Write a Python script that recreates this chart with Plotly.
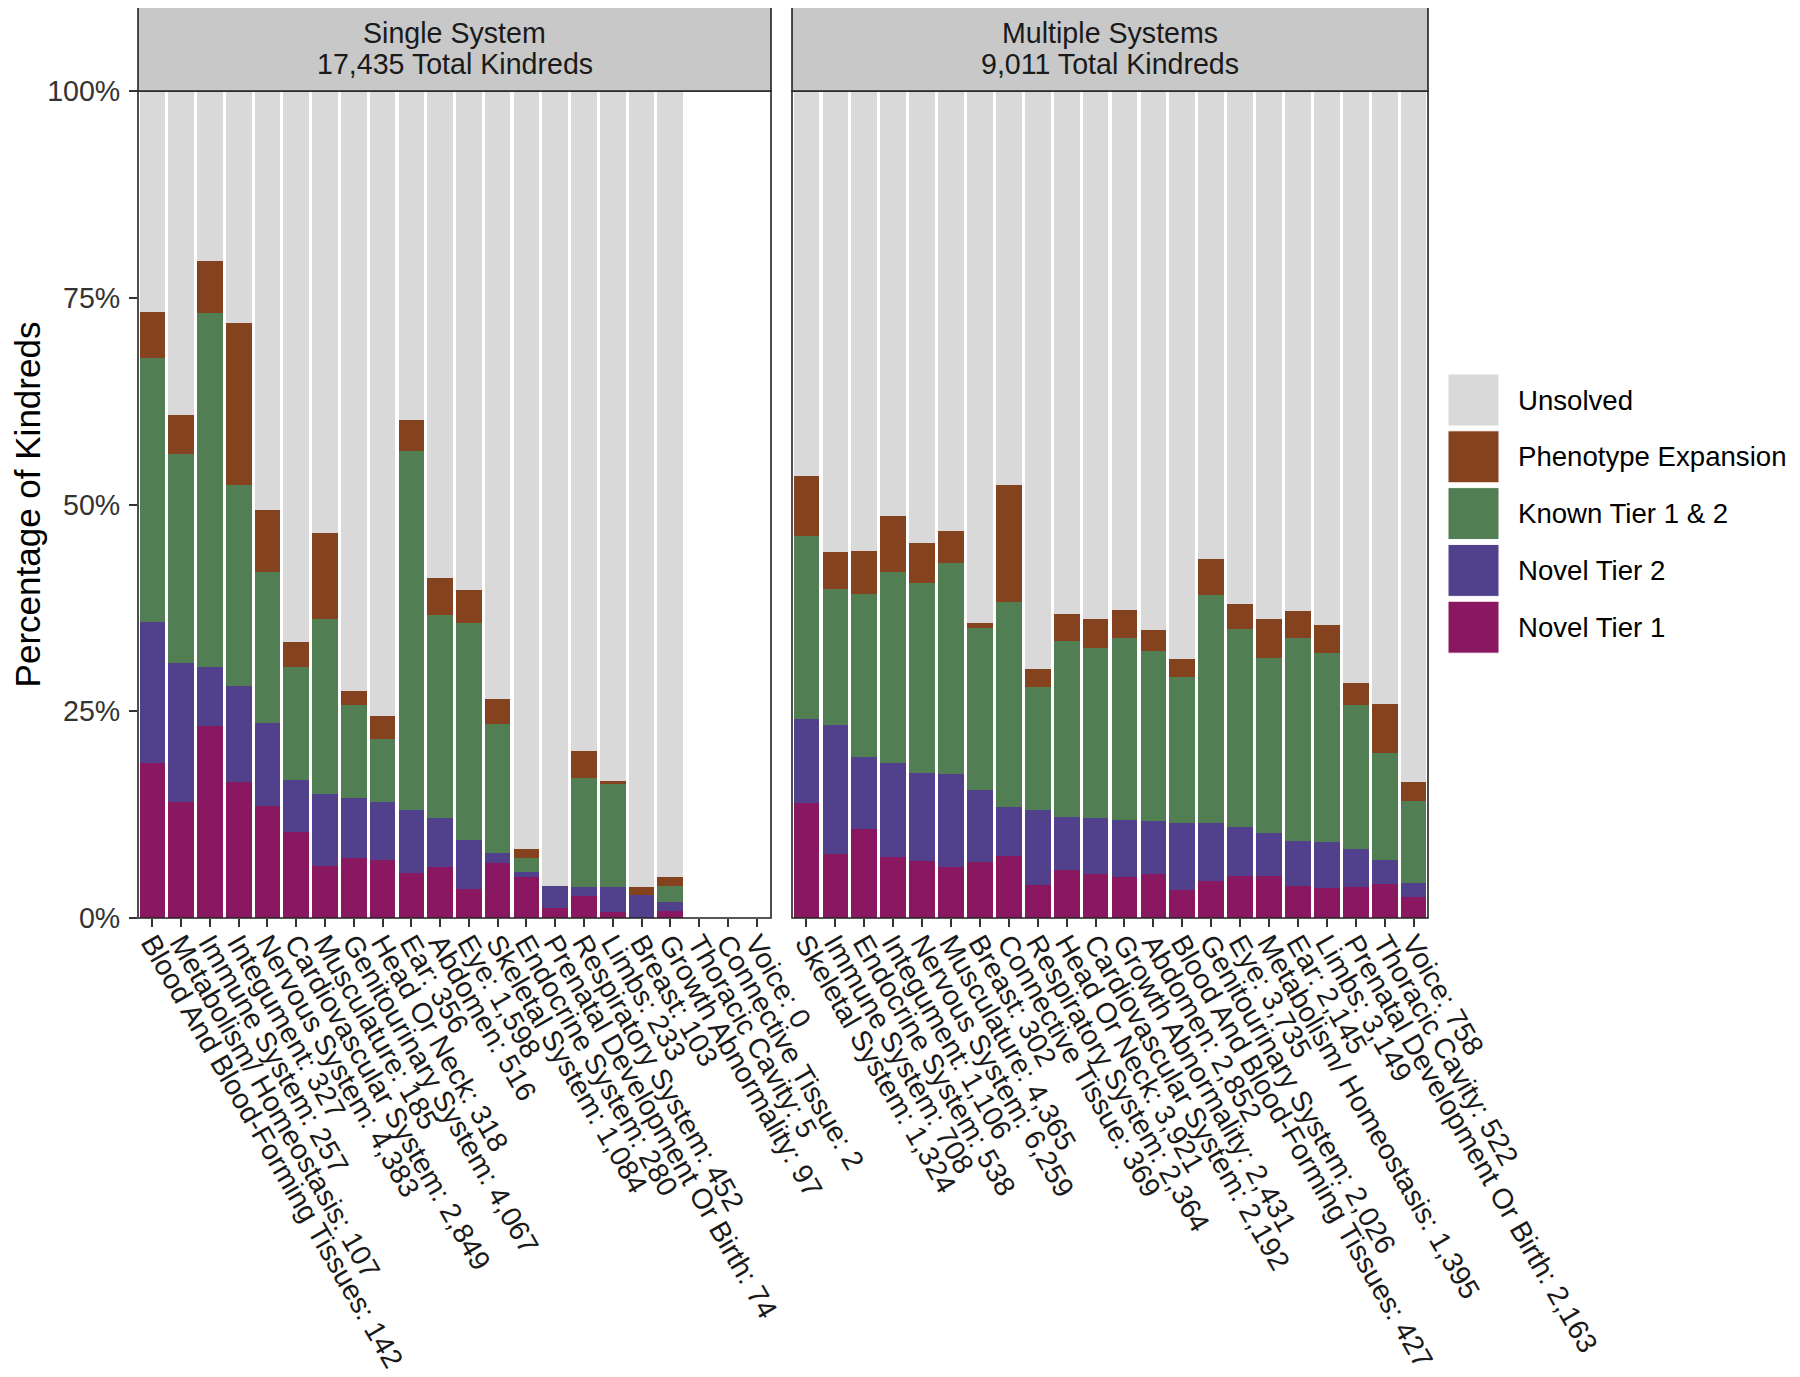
import plotly.graph_objects as go

W, H = 1800, 1377
OFF = 8  # page body margin in the browser

# ---------------- data ----------------
single_labels = [
    "Blood And Blood-Forming Tissues: 142", "Metabolism/ Homeostasis: 107", "Immune System: 257",
    "Integument: 327", "Nervous System: 4,383", "Cardiovascular System: 2,849", "Musculature: 185",
    "Genitourinary System: 4,067", "Head Or Neck: 318", "Ear: 356", "Abdomen: 516", "Eye: 1,598",
    "Skeletal System: 1,084", "Endocrine System: 280", "Prenatal Development Or Birth: 74",
    "Respiratory System: 452", "Limbs: 233", "Breast: 103", "Growth Abnormality: 97",
    "Thoracic Cavity: 5", "Connective Tissue: 2", "Voice: 0",
]
single_novel_t1 = [18.8, 14.0, 23.2, 16.4, 13.6, 10.4, 6.3, 7.3, 7.0, 5.5, 6.2, 3.5, 6.6, 4.9, 1.2, 2.7, 0.7, 0.0, 0.9, None, None, None]
single_novel_t2 = [17.0, 16.8, 7.1, 11.6, 10.0, 6.3, 8.7, 7.2, 7.0, 7.6, 5.9, 5.9, 1.3, 0.7, 2.7, 1.1, 3.0, 2.8, 1.0, None, None, None]
single_known = [31.9, 25.3, 42.9, 24.3, 18.2, 13.7, 21.1, 11.3, 7.6, 43.4, 24.5, 26.3, 15.6, 1.7, 0.0, 13.1, 12.5, 0.0, 2.0, None, None, None]
single_pheno = [5.6, 4.7, 6.2, 19.6, 7.5, 3.0, 10.4, 1.7, 2.8, 3.7, 4.5, 4.0, 3.0, 1.1, 0.0, 3.3, 0.4, 1.0, 1.0, None, None, None]
single_unsolved = [26.7, 39.2, 20.6, 28.1, 50.7, 66.6, 53.5, 72.5, 75.6, 39.8, 58.9, 60.3, 73.5, 91.6, 96.1, 79.8, 83.4, 96.2, 95.1, None, None, None]

multi_labels = [
    "Skeletal System: 1,324", "Immune System: 708", "Endocrine System: 538", "Integument: 1,106",
    "Nervous System: 6,259", "Musculature: 4,365", "Breast: 302", "Connective Tissue: 369",
    "Respiratory System: 2,364", "Head Or Neck: 3,921", "Cardiovascular System: 2,192",
    "Growth Abnormality: 2,431", "Abdomen: 2,852", "Blood And Blood-Forming Tissues: 427",
    "Genitourinary System: 2,026", "Eye: 3,735", "Metabolism/ Homeostasis: 1,395", "Ear: 2,145",
    "Limbs: 3,149", "Prenatal Development Or Birth: 2,163", "Thoracic Cavity: 522", "Voice: 758",
]
multi_novel_t1 = [13.9, 7.7, 10.8, 7.4, 6.9, 6.2, 6.8, 7.5, 4.0, 5.8, 5.3, 4.9, 5.3, 3.4, 4.5, 5.1, 5.1, 3.9, 3.6, 3.7, 4.1, 2.5]
multi_novel_t2 = [10.2, 15.6, 8.7, 11.3, 10.6, 11.2, 8.7, 5.9, 9.0, 6.4, 6.8, 7.0, 6.4, 8.1, 7.0, 5.9, 5.2, 5.4, 5.6, 4.7, 2.9, 1.7]
multi_known = [22.1, 16.5, 19.7, 23.1, 23.0, 25.5, 19.6, 24.8, 14.9, 21.3, 20.5, 22.0, 20.6, 17.6, 27.5, 23.9, 21.2, 24.6, 22.8, 17.4, 13.0, 10.0]
multi_pheno = [7.2, 4.4, 5.2, 6.8, 4.8, 3.9, 0.6, 14.1, 2.2, 3.3, 3.6, 3.4, 2.5, 2.2, 4.4, 3.1, 4.7, 3.2, 3.4, 2.6, 5.9, 2.3]
multi_unsolved = [46.6, 55.8, 55.6, 51.4, 54.7, 53.2, 64.3, 47.7, 69.9, 63.2, 63.8, 62.7, 65.2, 68.7, 56.6, 62.0, 63.8, 62.9, 64.6, 71.6, 74.1, 83.5]

series_names = ["Novel Tier 1", "Novel Tier 2", "Known Tier 1 & 2", "Phenotype Expansion", "Unsolved"]
series_colors = ["#891860", "#51418C", "#527E53", "#84431E", "#D9D9D9"]
single_series = [single_novel_t1, single_novel_t2, single_known, single_pheno, single_unsolved]
multi_series = [multi_novel_t1, multi_novel_t2, multi_known, multi_pheno, multi_unsolved]

strip_line1 = ["Single System", "Multiple Systems"]
strip_line2 = ["17,435 Total Kindreds", "9,011 Total Kindreds"]
y_title = "Percentage of Kindreds"
y_ticks = [0, 25, 50, 75, 100]
y_ticktext = ["0%", "25%", "50%", "75%", "100%"]

# ---------------- layout geometry (pixels in the screenshot) ----------------
FONT = "Liberation Sans, Arial, sans-serif"
TXT = 28.6
panel_x = [(138, 771), (792, 1428)]
panel_top, panel_bot = 91, 918
strip_top = 5


def px(x):
    return (x - OFF) / W


def py(y):
    return 1 - (y - OFF) / H


fig = go.Figure()
for name, col, sv, mv in zip(series_names, series_colors, single_series, multi_series):
    fig.add_trace(go.Bar(x=single_labels, y=sv, name=name, marker=dict(color=col, line=dict(width=0)),
                         xaxis="x", yaxis="y", showlegend=False))
    fig.add_trace(go.Bar(x=multi_labels, y=mv, name=name, marker=dict(color=col, line=dict(width=0)),
                         xaxis="x2", yaxis="y2", showlegend=False))

axis_common = dict(
    type="category", range=[-0.5, 21.5], tickangle=60, ticks="outside", ticklen=8, tickwidth=2,
    tickcolor="#333333", tickfont=dict(family=FONT, size=TXT, color="#1a1a1a"), showgrid=False,
    zeroline=False, showline=False, automargin=False, ticklabelstandoff=-12,
)
fig.update_layout(
    template="none",
    width=W, height=H, margin=dict(l=0, r=0, t=0, b=0, pad=0), autosize=False,
    paper_bgcolor="white", plot_bgcolor="white",
    barmode="stack", bargap=0.11, showlegend=False,
    font=dict(family=FONT, size=TXT, color="#1a1a1a"),
    xaxis=dict(domain=[px(panel_x[0][0]), px(panel_x[0][1])], anchor="y",
               categoryorder="array", categoryarray=single_labels,
               tickmode="array", tickvals=single_labels, ticktext=single_labels, **axis_common),
    xaxis2=dict(domain=[px(panel_x[1][0]), px(panel_x[1][1])], anchor="y2",
                categoryorder="array", categoryarray=multi_labels,
                tickmode="array", tickvals=multi_labels, ticktext=multi_labels, **axis_common),
    yaxis=dict(domain=[py(panel_bot), py(panel_top)], anchor="x", range=[0, 100],
               tickmode="array", tickvals=y_ticks, ticktext=y_ticktext, ticks="outside", ticklen=8,
               tickwidth=2, tickcolor="#333333", tickfont=dict(family=FONT, size=TXT, color="#333333"),
               showgrid=False, zeroline=False, showline=False, automargin=False, ticklabelstandoff=3,
               title=dict(text=y_title, standoff=2, font=dict(family=FONT, size=35, color="#000000"))),
    yaxis2=dict(domain=[py(panel_bot), py(panel_top)], anchor="x2", range=[0, 100],
                matches="y", showticklabels=False, ticks="", showgrid=False, zeroline=False,
                showline=False, automargin=False),
)

shapes = []
annotations = []
for (x0, x1), l1, l2 in zip(panel_x, strip_line1, strip_line2):
    # panel border
    shapes.append(dict(type="rect", xref="paper", yref="paper", x0=px(x0), x1=px(x1),
                       y0=py(panel_bot), y1=py(panel_top), line=dict(color="#222222", width=1.6),
                       fillcolor="rgba(0,0,0,0)", layer="above"))
    # strip
    shapes.append(dict(type="rect", xref="paper", yref="paper", x0=px(x0), x1=px(x1),
                       y0=py(panel_top), y1=py(strip_top), line=dict(color="#222222", width=1.6),
                       fillcolor="#C8C8C8", layer="above"))
    for txt, yc in ((l1, 33), (l2, 64)):
        annotations.append(dict(xref="paper", yref="paper", x=px((x0 + x1) / 2), y=py(yc),
                                text=txt, showarrow=False, xanchor="center", yanchor="middle",
                                font=dict(family=FONT, size=TXT, color="#1a1a1a")))

# legend (top to bottom: Unsolved ... Novel Tier 1)
leg_x0, leg_x1 = 1448, 1499
leg_top, key_h, pitch = 374, 52, 56.8
for i, (name, col) in enumerate(reversed(list(zip(series_names, series_colors)))):
    y0 = leg_top + i * pitch
    shapes.append(dict(type="rect", xref="paper", yref="paper", x0=px(leg_x0), x1=px(leg_x1),
                       y0=py(y0 + key_h), y1=py(y0), line=dict(color="white", width=1), fillcolor=col))
    annotations.append(dict(xref="paper", yref="paper", x=px(1516), y=py(y0 + key_h / 2), text=name,
                            showarrow=False, xanchor="left", yanchor="middle",
                            font=dict(family=FONT, size=27.6, color="#000000")))

fig.update_layout(shapes=shapes, annotations=annotations)
fig.write_html("out.html")
